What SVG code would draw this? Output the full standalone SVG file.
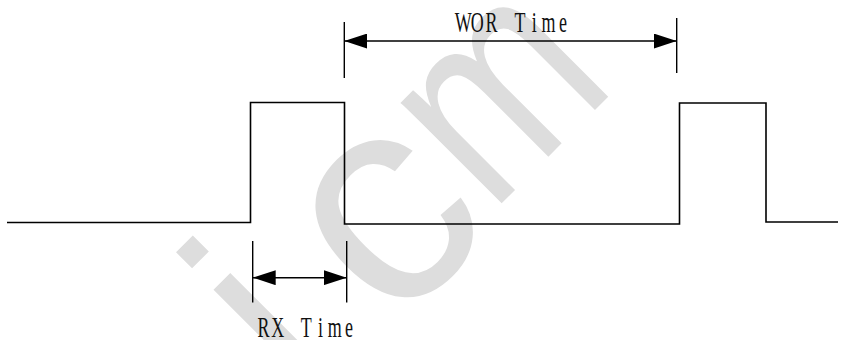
<svg xmlns="http://www.w3.org/2000/svg" width="846" height="340" viewBox="0 0 846 340">
  <style>
    .wave { fill: none; stroke: #000; stroke-width: 1.6; }
    .dim { fill: none; stroke: #000; stroke-width: 1.4; }
    .lbl { font-family: "Liberation Serif", "DejaVu Serif", serif; font-size: 30px; fill: #111; text-anchor: middle; }
    .wm { font-family: "Liberation Sans", Arial, sans-serif; font-size: 270px; fill: #dddddd; }
  </style>
  <defs>
    <marker id="ah" viewBox="0 0 23 15" refX="23" refY="7.5" markerWidth="23" markerHeight="15" markerUnits="userSpaceOnUse" orient="auto-start-reverse">
      <path d="M0,0 L23,7.5 L0,15 Z" fill="#000"/>
    </marker>
  </defs>
  <rect width="846" height="340" fill="#fff"/>
  <g id="watermark" transform="translate(352.5,352.5) rotate(-45)">
    <text class="wm" x="-72" y="0">i</text>
    <text class="wm" x="44" y="14" style="font-size:300px">c</text>
    <text class="wm" transform="translate(196,0) scale(0.8,1)">m</text>
  </g>
  <g id="waveform">
    <polyline class="wave" points="7,222.5 250.5,222.5 250.5,102.5 344.5,102.5 344.5,224 679.5,224 679.5,103 766,103 766,222 838,222"/>
  </g>
  <g id="connectors">
    <line class="dim" x1="344.3" y1="22" x2="344.3" y2="78"/>
    <line class="dim" x1="676.7" y1="18" x2="676.7" y2="73"/>
    <line class="dim" x1="344.3" y1="41" x2="676.7" y2="41" marker-start="url(#ah)" marker-end="url(#ah)"/>
    <line class="dim" x1="252.7" y1="241" x2="252.7" y2="302.5"/>
    <line class="dim" x1="346.7" y1="241" x2="346.7" y2="302.5"/>
    <line class="dim" x1="252.7" y1="277.7" x2="346.7" y2="277.7" marker-start="url(#ah)" marker-end="url(#ah)"/>
  </g>
  <g id="label-wor">
    <text class="lbl" transform="translate(456,32) scale(0.6,1)" x="11.875 35.625 59.375 106.875 130.625 154.375 178.125" y="0">WORTime</text>
  </g>
  <g id="label-rx">
    <text class="lbl" transform="translate(256.5,337) scale(0.6,1)" x="11.875 35.625 83.125 106.875 130.625 154.375" y="0">RXTime</text>
  </g>
</svg>
